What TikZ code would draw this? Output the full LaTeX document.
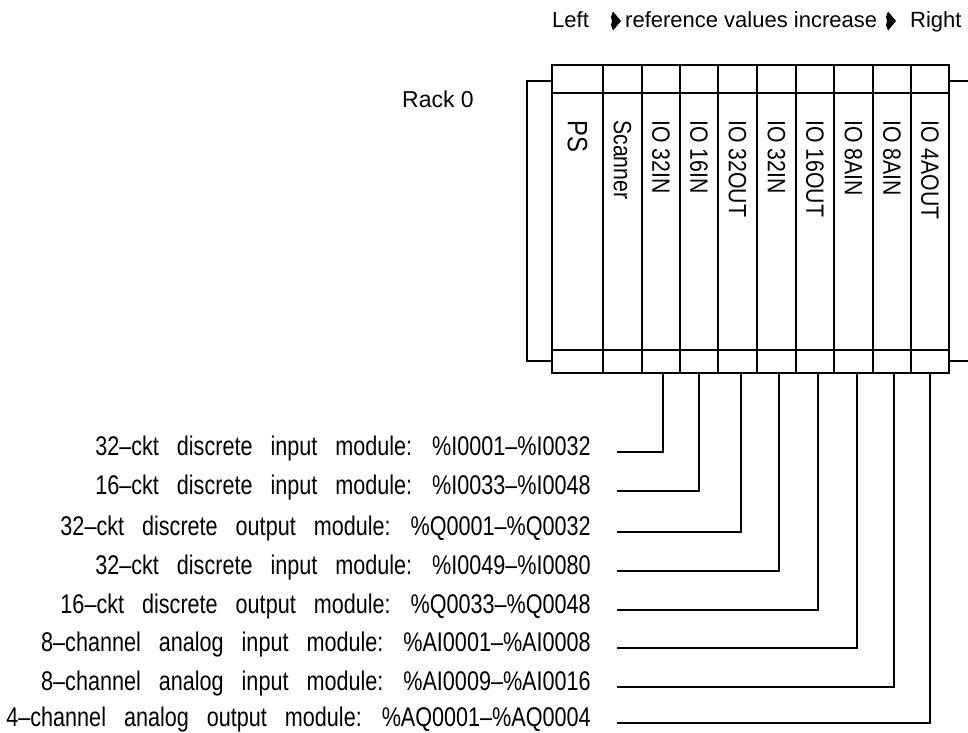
\documentclass[tikz,border=0pt]{standalone}
\usepackage{fontspec}
\setmainfont{Liberation Sans}
\newfontfamily\narrowfont{Liberation Sans}[FakeStretch=0.8,WordSpace=3]
\newfontfamily\slotfont{Liberation Sans}[FakeStretch=0.85]
\usetikzlibrary{calc}
\tikzset{
  rackline/.style={line width=2pt},
  slot/.style={rackline, draw, inner sep=0pt, outer sep=0pt, minimum height=308pt, anchor=north west},
  modlabel/.style={rotate=-90, anchor=west, inner sep=0pt, font=\slotfont\fontsize{25}{30}\selectfont},
  addrlabel/.style={anchor=base east, inner sep=0pt, font=\narrowfont\fontsize{27}{32}\selectfont},
  hdrtext/.style={anchor=base west, inner sep=0pt, font=\fontsize{22}{26}\selectfont},
  wire/.style={line width=2pt}
}
\begin{document}
\begin{tikzpicture}[x=1pt, y=-1pt]
    \useasboundingbox (0,0) rectangle (968,732);
    \node[hdrtext] (left) at (552,27) {Left};
    \node[hdrtext] (incr) at (625,27) {reference values increase};
    \node[hdrtext] (right) at (910,27) {Right};
    \coordinate (a1) at (616,21);
    \coordinate (a2) at (891,21);
    \foreach \c in {a1,a2}
        \fill[shift={(\c)}] (-3,-9.5) -- (5,0) -- (-3,9.5) -- (-5,4) -- (-4,0) -- (-5,-4) -- cycle;
    \node[anchor=base west, inner sep=0pt, font=\fontsize{23}{27}\selectfont] (rack) at (402,107) {Rack 0};
    \foreach \xa/\xb/\txt [count=\i] in {552/603/{\fontsize{28}{32}\selectfont PS}, 603/642/Scanner,
        642/680/IO 32IN, 680/718/IO 16IN, 718/757/IO 32OUT, 757/796/IO 32IN,
        796/834/IO 16OUT, 834/873/IO 8AIN, 873/911/IO 8AIN, 911/949/IO 4AOUT} {
        \node[slot, minimum width=\xb pt-\xa pt] (m\i) at (\xa,65) {};
        \node[modlabel] (t\i) at ([yshift=-55pt]m\i.north) {\txt};
    }
    \draw[rackline] (552,93) -- (949,93);
    \draw[rackline] (552,350) -- (949,350);
    \draw[rackline] (m1.north west) ++(0,16) -- ++(-25,0) -- ++(0,280) -- ++(25,0);
    \draw[rackline] (m10.north east) ++(0,16) -- ++(19,0);
    \draw[rackline] (m10.south east) ++(0,-12) -- ++(19,0);
    \foreach \y/\k/\dx/\txt [count=\i] in {
        452/3/2/32–ckt discrete input module: \%I0001–\%I0032,
        491/4/0/16–ckt discrete input module: \%I0033–\%I0048,
        532/5/3.5/32–ckt discrete output module: \%Q0001–\%Q0032,
        571/6/2.5/32–ckt discrete input module: \%I0049–\%I0080,
        610/7/3/16–ckt discrete output module: \%Q0033–\%Q0048,
        648/8/3.5/8–channel analog input module: \%AI0001–\%AI0008,
        687/9/2/8–channel analog input module: \%AI0009–\%AI0016,
        723/10/0/4–channel analog output module: \%AQ0001–\%AQ0004} {
        \coordinate (w\i) at (617,\y);
        \node[addrlabel] (l\i) at (591,\y+3) {\txt};
        \draw[wire] (w\i) -| ([xshift=\dx pt]m\k.south);
    }
\end{tikzpicture}
\end{document}
